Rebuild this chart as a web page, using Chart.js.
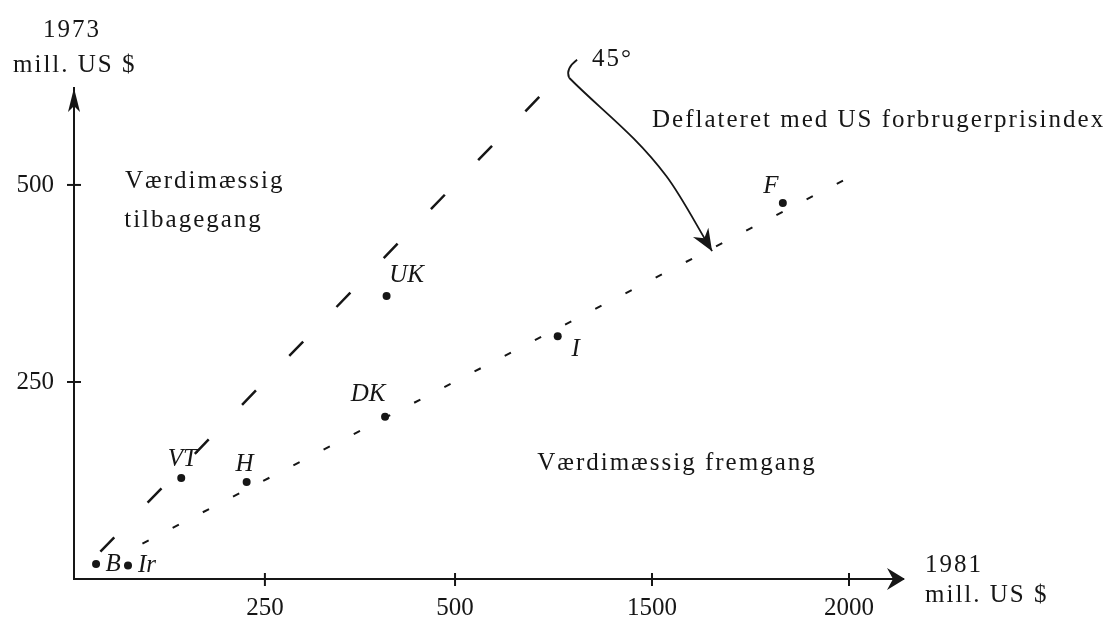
<!DOCTYPE html>
<html>
<head>
<meta charset="utf-8">
<script src="https://cdn.jsdelivr.net/npm/chart.js@4.4.1/dist/chart.umd.min.js"></script>
<style>
    html, body { margin: 0; padding: 0; background: #fff; }
    #wrap { width: 1117px; height: 619px; }
</style>
</head>
<body>
<div id="wrap"><canvas id="chart" width="1117" height="619"></canvas></div>
<script>
// lande: 1981 (x, aksens positionsenheder) og 1973 (y), mill. US $
const countries = ['B', 'Ir', 'VT', 'H', 'DK', 'UK', 'I', 'F'];
const value1981 = [29, 71, 141, 227, 409, 411, 636, 932];
const value1973 = [19, 17, 128, 123, 206, 359, 308, 477];

// akse-ticks og de trykte etiketter
const xTickPos = [251, 501, 760, 1019];
const xTickLabels = ['250', '500', '1500', '2000'];
const yTickPos = [250, 500];
const yTickLabels = ['250', '500'];

// 45-graders linjen og linjen deflateret med forbrugerprisindex
const line45X = [0, 652];
const line45Y = [0, 652];
const deflX = [90, 1020];
const deflY = [45, 510];

// buet pil fra 45° ned mod den deflaterede linje
const arrowX = [651, 779, 839];
const arrowY = [636, 511, 416];

// tekster i diagrammet
const notes = [
    { text: 'Værdimæssig', x: 67, y: 496 },
    { text: 'tilbagegang', x: 66, y: 447 },
    { text: 'Værdimæssig fremgang', x: 609, y: 138 },
    { text: 'Deflateret med US forbrugerprisindex', x: 760, y: 574 },
    { text: '45°', x: 681, y: 651 }
];

const ink = '#161616';
const serif = '"Liberation Serif", "Times New Roman", serif';

// etiketternes forskydning fra punktet (pixels)
const labelDx = [17, 19, 1, -2, -17, 20, 18, -12];
const labelDy = [-2, -2, -21, -20, -24, -23, 11, -19];

function pts(xs, ys) {
    return xs.map((v, i) => ({ x: v, y: ys[i] }));
}

// tegner akse-pile, tick-mærker, tekster og landenavne
const sketchPlugin = {
    id: 'sketch',
    afterDraw(chart) {
        const ctx = chart.ctx;
        const a = chart.chartArea;
        const x = chart.scales.x;
        const y = chart.scales.y;
        ctx.save();
        ctx.fillStyle = ink;
        ctx.strokeStyle = ink;
        ctx.lineWidth = 2;

        // tick-mærker på tværs af akserne
        xTickPos.forEach(v => {
            const px = x.getPixelForValue(v);
            ctx.beginPath();
            ctx.moveTo(px, a.bottom - 6);
            ctx.lineTo(px, a.bottom + 7);
            ctx.stroke();
        });
        yTickPos.forEach(v => {
            const py = y.getPixelForValue(v);
            ctx.beginPath();
            ctx.moveTo(a.left - 7, py);
            ctx.lineTo(a.left + 7, py);
            ctx.stroke();
        });

        // pilespidser på akserne
        ctx.beginPath();
        ctx.moveTo(a.right + 2, a.bottom);
        ctx.lineTo(a.right - 16, a.bottom - 11);
        ctx.lineTo(a.right - 10, a.bottom);
        ctx.lineTo(a.right - 16, a.bottom + 11);
        ctx.closePath();
        ctx.fill();
        ctx.beginPath();
        ctx.moveTo(a.left, a.top);
        ctx.lineTo(a.left - 6, a.top + 24);
        ctx.lineTo(a.left, a.top + 18);
        ctx.lineTo(a.left + 6, a.top + 24);
        ctx.closePath();
        ctx.fill();

        // lille vinkelmærke og pilespids på den buede pil
        const arrow = chart.getDatasetMeta(3).data;
        const s = arrow[0];
        ctx.lineWidth = 1.8;
        ctx.beginPath();
        ctx.moveTo(s.x + 8, s.y - 18);
        ctx.quadraticCurveTo(s.x - 4, s.y - 9, s.x, s.y);
        ctx.stroke();
        const p = arrow[arrow.length - 1];
        const q = arrow[arrow.length - 2];
        const ang = Math.atan2(p.y - q.y, p.x - q.x);
        ctx.translate(p.x, p.y);
        ctx.rotate(ang);
        ctx.beginPath();
        ctx.moveTo(0, 0);
        ctx.lineTo(-22, -9);
        ctx.lineTo(-15, 0);
        ctx.lineTo(-22, 9);
        ctx.closePath();
        ctx.fill();
        ctx.setTransform(1, 0, 0, 1, 0, 0);

        // tekster
        ctx.font = '25px ' + serif;
        ctx.letterSpacing = '2px';
        ctx.textBaseline = 'alphabetic';
        ctx.textAlign = 'left';
        notes.forEach(n => {
            ctx.fillText(n.text, x.getPixelForValue(n.x), y.getPixelForValue(n.y));
        });

        // aksetitler
        ctx.textAlign = 'center';
        ctx.fillText('1973', a.left - 2, 37);
        ctx.textAlign = 'left';
        ctx.fillText('mill. US $', 13, 72);
        ctx.fillText('1981', a.right + 22, 572);
        ctx.fillText('mill. US $', a.right + 22, 602);

        // landenavne i kursiv
        ctx.letterSpacing = '0px';
        ctx.font = 'italic 25px ' + serif;
        ctx.textAlign = 'center';
        ctx.textBaseline = 'middle';
        const dots = chart.getDatasetMeta(0).data;
        countries.forEach((c, i) => {
            ctx.fillText(c, dots[i].x + labelDx[i], dots[i].y + labelDy[i] + 2);
        });
        ctx.restore();
    }
};

new Chart(document.getElementById('chart'), {
    type: 'scatter',
    data: {
        datasets: [
            {
                label: 'lande',
                data: pts(value1981, value1973),
                pointRadius: 4,
                pointBackgroundColor: ink,
                pointBorderWidth: 0,
                showLine: false
            },
            {
                label: '45°',
                data: pts(line45X, line45Y),
                showLine: true,
                borderColor: ink,
                borderWidth: 2.5,
                borderDash: [20, 48],
                borderDashOffset: 30,
                pointRadius: 0,
                clip: false
            },
            {
                label: 'deflateret',
                data: pts(deflX, deflY),
                showLine: true,
                borderColor: ink,
                borderWidth: 2,
                borderDash: [7, 27],
                pointRadius: 0,
                clip: false
            },
            {
                label: 'pil',
                data: pts(arrowX, arrowY),
                showLine: true,
                borderColor: ink,
                borderWidth: 1.8,
                cubicInterpolationMode: 'monotone',
                pointRadius: 0,
                clip: false
            }
        ]
    },
    options: {
        responsive: false,
        animation: false,
        layout: { padding: { top: 88, right: 214, bottom: 0, left: 0 } },
        plugins: {
            legend: { display: false },
            tooltip: { enabled: false }
        },
        scales: {
            x: {
                type: 'linear',
                min: 0,
                max: 1090,
                grid: { display: false, drawTicks: false },
                border: { display: true, color: ink, width: 2 },
                afterBuildTicks: s => { s.ticks = xTickPos.map(v => ({ value: v })); },
                afterFit: s => { s.height = 40; },
                ticks: {
                    autoSkip: false,
                    maxRotation: 0,
                    padding: 14,
                    color: ink,
                    font: { family: serif, size: 25 },
                    callback: (v, i) => xTickLabels[i]
                }
            },
            y: {
                type: 'linear',
                min: 0,
                max: 623,
                grid: { display: false, drawTicks: false },
                border: { display: true, color: ink, width: 2 },
                afterBuildTicks: s => { s.ticks = yTickPos.map(v => ({ value: v })); },
                afterFit: s => { s.width = 74; },
                ticks: {
                    autoSkip: false,
                    padding: 20,
                    color: ink,
                    font: { family: serif, size: 25 },
                    callback: (v, i) => yTickLabels[i]
                }
            }
        }
    },
    plugins: [sketchPlugin]
});
</script>
</body>
</html>
